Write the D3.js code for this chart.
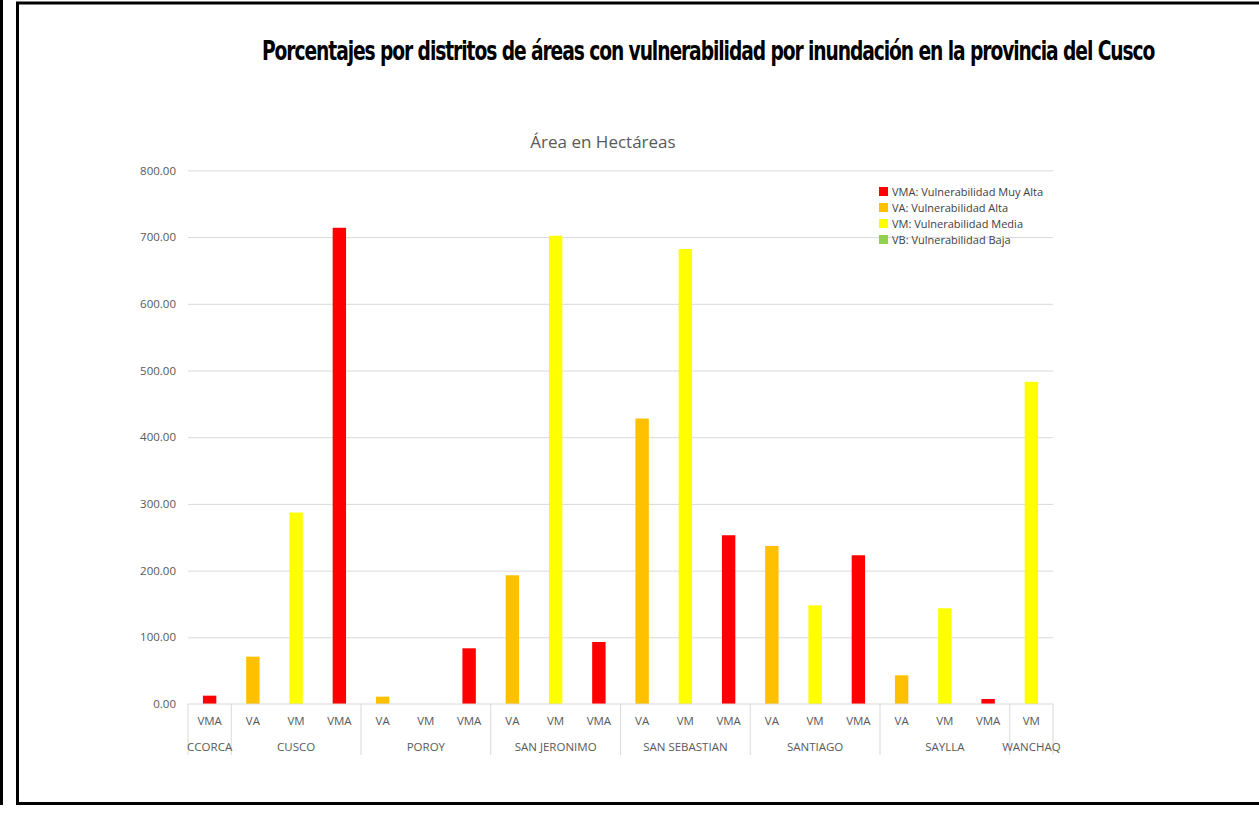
<!DOCTYPE html>
<html>
<head>
<meta charset="utf-8">
<script src="https://cdn.jsdelivr.net/npm/d3@7"></script>
<style>
    body { margin: 0; background: #fff; }
    svg { display: block; }
    .tick text { font-family: "Open Sans", sans-serif; font-size: 11.5px; fill: #595959; }
</style>
</head>
<body>
<div id="chart"></div>
<script>
// data (hectares)
var districts = ["CCORCA", "CUSCO", "POROY", "SAN JERONIMO", "SAN SEBASTIAN", "SANTIAGO", "SAYLLA", "WANCHAQ"];
var levels = [["VMA"], ["VA", "VM", "VMA"], ["VA", "VM", "VMA"], ["VA", "VM", "VMA"],
              ["VA", "VM", "VMA"], ["VA", "VM", "VMA"], ["VA", "VM", "VMA"], ["VM"]];
var areas = [[12.5], [71, 287, 714], [11, 0, 83.5], [193, 702, 93],
             [428, 682, 253], [237, 148, 223], [43, 143.5, 7.5], [483]];
var yTicks = [0, 100, 200, 300, 400, 500, 600, 700, 800];
var legendKeys = ["VMA", "VA", "VM", "VB"];
var legendLabels = ["VMA: Vulnerabilidad Muy Alta", "VA: Vulnerabilidad Alta",
                    "VM: Vulnerabilidad Media", "VB: Vulnerabilidad Baja"];

var colors = { VMA: "#ff0000", VA: "#ffc000", VM: "#ffff00", VB: "#92d050" };

var svgWidth = 1259, svgHeight = 837;
var margin = { top: 170.4, left: 188, right: 206, bottom: 133 };
var chartWidth = svgWidth - margin.left - margin.right;
var chartHeight = svgHeight - margin.top - margin.bottom;

var svg = d3.select("#chart").append("svg")
    .attr("width", svgWidth)
    .attr("height", svgHeight);

// frames
svg.append("line")
    .attr("x1", 1.5).attr("x2", 1.5).attr("y1", 0).attr("y2", 805)
    .attr("stroke", "#000").attr("stroke-width", 3);
svg.append("rect")
    .attr("x", 17.5).attr("y", 3).attr("width", 1250).attr("height", 800.5)
    .attr("fill", "none").attr("stroke", "#000").attr("stroke-width", 3);

// main title, squeezed horizontally like the condensed original
var title = svg.append("text")
    .style("font-family", "'DejaVu Sans', sans-serif")
    .style("font-weight", "bold")
    .style("font-size", "26px")
    .style("letter-spacing", "-1.5px")
    .attr("fill", "#000")
    .text("Porcentajes por distritos de áreas con vulnerabilidad por inundación en la provincia del Cusco");
var titleW = title.node().getComputedTextLength();
title.attr("transform", `translate(262, 60) scale(${893 / titleW}, 1)`);

// chart title
svg.append("text")
    .attr("x", 603).attr("y", 148)
    .attr("text-anchor", "middle")
    .style("font-family", "'Open Sans', sans-serif")
    .style("font-size", "17px")
    .attr("fill", "#595959")
    .text("Área en Hectáreas");

// flatten into categories
var items = [];
districts.forEach(function(dist, i) {
    levels[i].forEach(function(lev, j) {
        items.push({ district: dist, level: lev, value: areas[i][j], key: i + "-" + j });
    });
});

var chartGroup = svg.append("g")
    .attr("transform", `translate(${margin.left}, ${margin.top})`);

var xBandScale = d3.scaleBand()
    .domain(items.map(d => d.key))
    .range([0, chartWidth])
    .paddingInner(0.69)
    .paddingOuter(0.345);

var yLinearScale = d3.scaleLinear()
    .domain([0, 800])
    .range([chartHeight, 0]);

// gridlines + y labels
var yAxis = d3.axisLeft(yLinearScale)
    .tickValues(yTicks)
    .tickFormat(d3.format(".2f"))
    .tickSize(-chartWidth)
    .tickPadding(12);

var yg = chartGroup.append("g").call(yAxis);
yg.select(".domain").remove();
yg.selectAll(".tick line").attr("stroke", "#d9d9d9");
yg.selectAll(".tick").filter(d => d === 0).select("line").remove();

// bars
chartGroup.selectAll("rect.bar")
    .data(items.filter(d => d.value > 0))
    .enter()
    .append("rect")
    .attr("class", "bar")
    .attr("x", d => xBandScale(d.key))
    .attr("width", xBandScale.bandwidth())
    .attr("y", d => yLinearScale(d.value))
    .attr("height", d => chartHeight - yLinearScale(d.value))
    .attr("fill", d => colors[d.level]);

// category axis
var step = xBandScale.step();
var axisGroup = chartGroup.append("g")
    .attr("transform", `translate(0, ${chartHeight})`);

axisGroup.append("line")
    .attr("x1", 0).attr("x2", chartWidth)
    .attr("y1", 0).attr("y2", 0)
    .attr("stroke", "#d9d9d9");

axisGroup.selectAll("text.lev")
    .data(items)
    .enter()
    .append("text")
    .attr("class", "lev")
    .attr("x", d => xBandScale(d.key) + xBandScale.bandwidth() / 2)
    .attr("y", 21)
    .attr("text-anchor", "middle")
    .style("font-family", "'Open Sans', sans-serif")
    .style("font-size", "11.5px")
    .attr("fill", "#595959")
    .text(d => d.level);

// district groups
var groups = [];
var start = 0;
districts.forEach(function(dist, i) {
    groups.push({ name: dist, x0: start * step, x1: (start + levels[i].length) * step });
    start += levels[i].length;
});

axisGroup.selectAll("line.sep")
    .data([0].concat(groups.map(g => g.x1)))
    .enter()
    .append("line")
    .attr("class", "sep")
    .attr("x1", d => d).attr("x2", d => d)
    .attr("y1", 0).attr("y2", 51)
    .attr("stroke", "#d9d9d9");

axisGroup.selectAll("text.dist")
    .data(groups)
    .enter()
    .append("text")
    .attr("class", "dist")
    .attr("x", d => (d.x0 + d.x1) / 2)
    .attr("y", 47)
    .attr("text-anchor", "middle")
    .style("font-family", "'Open Sans', sans-serif")
    .style("font-size", "11.5px")
    .attr("fill", "#595959")
    .text(d => d.name);

// legend
var legend = svg.append("g")
    .attr("transform", "translate(879, 187)");

var rows = legend.selectAll("g")
    .data(legendKeys)
    .enter()
    .append("g")
    .attr("transform", (d, i) => `translate(0, ${i * 16})`);

rows.append("rect")
    .attr("width", 9).attr("height", 9)
    .attr("fill", d => colors[d]);

rows.append("text")
    .attr("x", 13).attr("y", 8.5)
    .style("font-family", "'Open Sans', sans-serif")
    .style("font-size", "11px")
    .attr("fill", "#404040")
    .text((d, i) => legendLabels[i]);
</script>
</body>
</html>
